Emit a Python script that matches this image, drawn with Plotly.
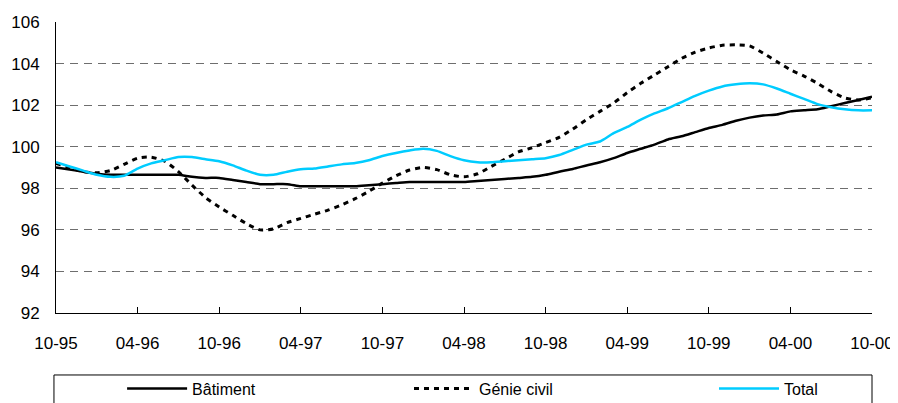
import plotly.graph_objects as go

tick_labels = ["10-95", "04-96", "10-96", "04-97", "10-97", "04-98",
               "10-98", "04-99", "10-99", "04-00", "10-00"]
months = list(range(61))  # monthly points from 10-95 to 10-00

batiment = [99.0, 98.9, 98.8, 98.7, 98.65, 98.65, 98.65, 98.65, 98.65, 98.65,
            98.55, 98.5, 98.5, 98.4, 98.3, 98.2, 98.2, 98.2, 98.1, 98.1,
            98.1, 98.1, 98.1, 98.15, 98.2, 98.25, 98.3, 98.3, 98.3, 98.3,
            98.3, 98.35, 98.4, 98.45, 98.5, 98.55, 98.65, 98.8, 98.93, 99.1,
            99.25, 99.45, 99.7, 99.9, 100.1, 100.35, 100.5, 100.7, 100.9, 101.05,
            101.25, 101.4, 101.5, 101.55, 101.7, 101.75, 101.8, 101.95, 102.1, 102.25,
            102.4]

genie_civil = [99.2, 99.0, 98.8, 98.75, 98.85, 99.15, 99.45, 99.5, 99.3, 98.8,
               98.15, 97.55, 97.1, 96.7, 96.3, 96.0, 96.05, 96.35, 96.55, 96.75,
               96.95, 97.2, 97.5, 97.85, 98.25, 98.6, 98.88, 99.0, 98.9, 98.65,
               98.55, 98.7, 99.05, 99.4, 99.75, 99.95, 100.2, 100.45, 100.85, 101.3,
               101.7, 102.1, 102.6, 103.05, 103.45, 103.85, 104.25, 104.55, 104.75, 104.88,
               104.9, 104.85, 104.5, 104.1, 103.7, 103.4, 103.05, 102.65, 102.35, 102.25,
               102.35]

total = [99.25, 99.05, 98.85, 98.65, 98.55, 98.6, 98.95, 99.2, 99.35, 99.5,
         99.5, 99.4, 99.3, 99.1, 98.85, 98.65, 98.65, 98.8, 98.92, 98.95,
         99.05, 99.15, 99.22, 99.35, 99.55, 99.7, 99.82, 99.9, 99.8, 99.55,
         99.35, 99.25, 99.25, 99.3, 99.35, 99.4, 99.45, 99.6, 99.85, 100.1,
         100.25, 100.65, 100.95, 101.3, 101.6, 101.85, 102.15, 102.45, 102.7, 102.9,
         103.0, 103.05, 103.0, 102.8, 102.55, 102.3, 102.05, 101.9, 101.8, 101.75,
         101.75]

y_ticks = [92, 94, 96, 98, 100, 102, 104, 106]

FONT = "Liberation Sans, Arial, sans-serif"

fig = go.Figure()
fig.add_trace(go.Scatter(x=months, y=batiment, name="Bâtiment", mode="lines", legend="legend",
                         line=dict(color="#000000", width=2.5, shape="spline", smoothing=0.6)))
fig.add_trace(go.Scatter(x=months, y=genie_civil, name="Génie civil", mode="lines", legend="legend2",
                         line=dict(color="#000000", width=3, dash="5px,5px", shape="spline", smoothing=0.6)))
fig.add_trace(go.Scatter(x=months, y=total, name="Total", mode="lines", legend="legend3",
                         line=dict(color="#00CCFF", width=2.5, shape="spline", smoothing=0.6)))

leg_common = dict(orientation="h", xanchor="left", y=-0.201, yanchor="top",
                  font=dict(family=FONT, size=16, color="black"),
                  itemwidth=60, bgcolor="rgba(0,0,0,0)")

# page body has an 8px default margin, so the figure is 8px smaller
fig.update_layout(
    width=890, height=395,
    margin=dict(l=48, r=26, t=14, b=90, autoexpand=False),
    paper_bgcolor="white", plot_bgcolor="white",
    font=dict(family=FONT, size=17, color="black"),
    showlegend=True,
    legend=dict(x=0.081, **leg_common),
    legend2=dict(x=0.4326, **leg_common),
    legend3=dict(x=0.8064, **leg_common),
    shapes=[dict(type="rect", xref="paper", yref="paper",
                 x0=-0.0025, x1=1.0, y0=-0.213, y1=-0.45,
                 line=dict(color="black", width=1), fillcolor="rgba(0,0,0,0)")],
)

fig.update_xaxes(
    range=[0, 60], tickmode="array",
    tickvals=[i * 6 for i in range(len(tick_labels))], ticktext=tick_labels,
    showgrid=False, zeroline=False,
    showline=True, linecolor="black", linewidth=1,
    ticks="inside", ticklen=6, tickcolor="black", tickwidth=1,
    ticklabelstandoff=15,
    tickfont=dict(family=FONT, size=17, color="black"),
)
fig.update_yaxes(
    range=[92, 106], tickmode="array", tickvals=y_ticks,
    showgrid=True, gridcolor="#6e6e6e", gridwidth=1, griddash="8px,6px",
    zeroline=False, showline=True, linecolor="black", linewidth=1,
    ticks="", ticklabelstandoff=12,
    tickfont=dict(family=FONT, size=17, color="black"),
)

fig.write_html("out.html")
